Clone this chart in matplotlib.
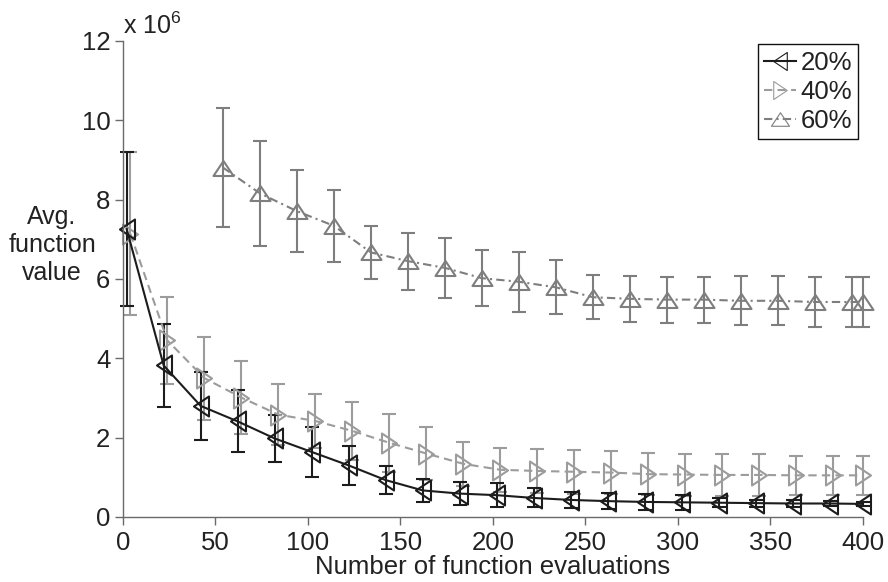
import matplotlib
matplotlib.use("Agg")
import matplotlib.pyplot as plt
from matplotlib.path import Path
from matplotlib.lines import Line2D

plt.rcParams['font.family'] = ['Liberation Sans', 'DejaVu Sans']
plt.rcParams['mathtext.fontset'] = 'custom'
plt.rcParams['mathtext.rm'] = 'Liberation Sans'
plt.rcParams['mathtext.it'] = 'Liberation Sans'

# Average function value (x 10^6) vs. number of function evaluations
x20 = [2, 22, 42, 62, 82, 102, 122, 142, 162, 182, 202, 222, 242, 262, 282,
       302, 322, 342, 362, 382, 400]
y20 = [7.26, 3.82, 2.80, 2.41, 1.98, 1.64, 1.30, 0.93, 0.67, 0.59, 0.55, 0.48,
       0.43, 0.40, 0.38, 0.37, 0.36, 0.35, 0.34, 0.34, 0.33]
e20 = [1.95, 1.05, 0.85, 0.78, 0.59, 0.62, 0.49, 0.36, 0.29, 0.30, 0.30, 0.24,
       0.21, 0.21, 0.20, 0.19, 0.12, 0.09, 0.08, 0.07, 0.05]

x40 = [4, 24, 44, 64, 84, 104, 124, 144, 164, 184, 204, 224, 244, 264, 284,
       304, 324, 344, 364, 384, 400]
y40 = [7.14, 4.45, 3.50, 3.01, 2.58, 2.42, 2.17, 1.87, 1.60, 1.34, 1.19, 1.16,
       1.14, 1.12, 1.08, 1.07, 1.06, 1.06, 1.05, 1.05, 1.05]
e40 = [2.06, 1.10, 1.05, 0.92, 0.77, 0.69, 0.74, 0.73, 0.67, 0.56, 0.55, 0.55,
       0.55, 0.55, 0.53, 0.53, 0.52, 0.52, 0.50, 0.50, 0.50]

x60 = [54, 74, 94, 114, 134, 154, 174, 194, 214, 234, 254, 274, 294, 314, 334,
       354, 374, 394, 400]
y60 = [8.81, 8.16, 7.71, 7.34, 6.67, 6.45, 6.28, 6.02, 5.93, 5.79, 5.54, 5.50,
       5.48, 5.48, 5.45, 5.45, 5.42, 5.42, 5.42]
e60 = [1.50, 1.33, 1.03, 0.90, 0.67, 0.72, 0.76, 0.70, 0.76, 0.68, 0.56, 0.58,
       0.58, 0.58, 0.62, 0.62, 0.62, 0.62, 0.62]

labels = ['20%', '40%', '60%']
xticks = [0, 50, 100, 150, 200, 250, 300, 350, 400]
yticks = [0, 2, 4, 6, 8, 10, 12]

FS = 18.5

# flattened triangle markers
tri_up = Path([(-1, -0.75), (1, -0.75), (0, 0.75), (-1, -0.75)],
              [Path.MOVETO, Path.LINETO, Path.LINETO, Path.CLOSEPOLY])
tri_left = Path([(0.75, -1), (0.75, 1), (-0.75, 0), (0.75, -1)],
                [Path.MOVETO, Path.LINETO, Path.LINETO, Path.CLOSEPOLY])
tri_right = Path([(-0.75, -1), (-0.75, 1), (0.75, 0), (-0.75, -1)],
                 [Path.MOVETO, Path.LINETO, Path.LINETO, Path.CLOSEPOLY])

c20, c40, c60 = '#1c1c1c', '#9c9c9c', '#7e7e7e'
ls20 = '-'
ls40 = (0, (4, 2.5))
ls60 = (0, (4, 2, 1, 2))

fig = plt.figure(figsize=(8.88, 5.82), dpi=100)
ax = fig.add_axes([0.1385, 0.1117, 0.8333, 0.8179])

series = [
    (x60, y60, e60, c60, ls60, tri_up),
    (x40, y40, e40, c40, ls40, tri_right),
    (x20, y20, e20, c20, ls20, tri_left),
]
for xs, ys, es, col, ls, mk in series:
    ax.errorbar(xs, ys, yerr=es, color=col, ecolor=col, ls=ls, lw=1.5,
                marker=mk, ms=14.4, mfc='none', mec=col, mew=1.5,
                elinewidth=1.5, capsize=4.7, capthick=1.5, clip_on=False)

ax.set_xlim(0, 400)
ax.set_ylim(0, 12)
ax.set_xticks(xticks)
ax.set_yticks(yticks)
ax.spines['top'].set_visible(False)
ax.spines['right'].set_visible(False)
for s in ('left', 'bottom'):
    ax.spines[s].set_color('#6a6a6a')
    ax.spines[s].set_linewidth(1.0)
ax.tick_params(direction='out', length=6, width=1.0, color='#6a6a6a',
               labelsize=FS, labelcolor='#222222')
ax.tick_params(axis='x', pad=4)
ax.tick_params(axis='y', pad=3)

ax.set_xlabel('Number of function evaluations', fontsize=FS,
              color='#222222', labelpad=0)
fig.text(52 / 888, 1 - 245 / 582, 'Avg.\nfunction\nvalue', fontsize=18,
         color='#222222', ha='center', va='center', linespacing=1.2)
fig.text(123 / 888, 1 - 34 / 582, r'x 10$^{6}$', fontsize=18,
         color='#222222', ha='left', va='baseline')

handles = [
    Line2D([], [], color=c20, ls=ls20, lw=1.5, marker=tri_left, ms=13,
           mfc='none', mec=c20, mew=0.8),
    Line2D([], [], color=c40, ls=ls40, lw=1.5, marker=tri_right, ms=13,
           mfc='none', mec=c40, mew=0.8),
    Line2D([], [], color=c60, ls=ls60, lw=1.5, marker=tri_up, ms=13,
           mfc='none', mec=c60, mew=0.8),
]
leg = ax.legend(handles, labels, loc='upper right',
                bbox_to_anchor=(858.3 / 888, 1 - 44.3 / 582),
                bbox_transform=fig.transFigure, borderaxespad=0,
                fontsize=FS, numpoints=1, handlelength=1.25,
                handletextpad=0.15, borderpad=0.25, labelspacing=0.2,
                fancybox=False, framealpha=1, edgecolor='#111111')
leg.get_frame().set_linewidth(1.0)
for t in leg.get_texts():
    t.set_color('#222222')

fig.savefig('out.png', dpi=100)
